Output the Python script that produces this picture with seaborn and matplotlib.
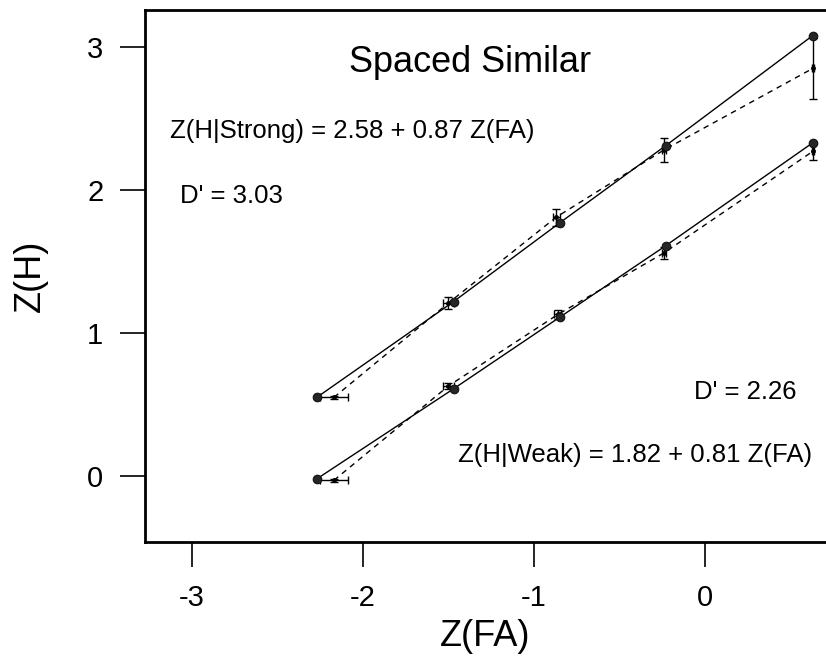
import numpy as np
import pandas as pd
import matplotlib
matplotlib.use("Agg")
import matplotlib.pyplot as plt
import seaborn as sns

# ---- data ----
fa_model = [-2.27, -1.47, -0.85, -0.23, 0.63]
strong_model = [0.55, 1.22, 1.77, 2.31, 3.08]
weak_model = [-0.02, 0.61, 1.11, 1.61, 2.33]

strong_obs_x = [-2.17, -1.50, -0.87, -0.24, 0.63]
strong_obs_y = [0.55, 1.21, 1.81, 2.28, 2.85]
strong_obs_xerr = [0.08, 0.03, 0.02, 0.01, 0.005]
strong_obs_yerr = [0.01, 0.045, 0.06, 0.085, 0.21]

weak_obs_x = [-2.17, -1.50, -0.86, -0.24, 0.63]
weak_obs_y = [-0.03, 0.63, 1.13, 1.56, 2.27]
weak_obs_xerr = [0.08, 0.03, 0.02, 0.01, 0.005]
weak_obs_yerr = [0.01, 0.02, 0.03, 0.045, 0.06]

x_ticks = [-3, -2, -1, 0]
y_ticks = [0, 1, 2, 3]

title_text = "Spaced Similar"
strong_eq = "Z(H|Strong) = 2.58 + 0.87 Z(FA)"
weak_eq = "Z(H|Weak) = 1.82 + 0.81 Z(FA)"
strong_d = "D' = 3.03"
weak_d = "D' = 2.26"

sns.set_theme(style="white")
plt.rcParams['font.family'] = ['Liberation Sans', 'DejaVu Sans']

fig = plt.figure(figsize=(8.26, 6.56), dpi=100)
ax = fig.add_axes([145/826, 1-542/656, 1-145/826, (542-10)/656])

model_df = pd.DataFrame({
    "fa": fa_model * 2,
    "zh": strong_model + weak_model,
    "cond": ["Strong"] * 5 + ["Weak"] * 5,
})
obs_df = pd.DataFrame({
    "fa": strong_obs_x + weak_obs_x,
    "zh": strong_obs_y + weak_obs_y,
    "cond": ["Strong"] * 5 + ["Weak"] * 5,
})

# model (solid) lines with filled markers
sns.lineplot(data=model_df, x="fa", y="zh", units="cond", estimator=None,
             sort=False, color="black", lw=1.0, ax=ax, legend=False)
sns.scatterplot(data=model_df, x="fa", y="zh", color="#262626", s=38,
                edgecolor="#111111", linewidth=0.8, ax=ax, legend=False, zorder=5)

# observed (dashed) lines with error bars
sns.lineplot(data=obs_df, x="fa", y="zh", units="cond", estimator=None,
             sort=False, color="black", lw=1.0, ax=ax, legend=False,
             linestyle=(0, (4, 3.5)))
for xs, ys, xe, ye in [(strong_obs_x, strong_obs_y, strong_obs_xerr, strong_obs_yerr),
                       (weak_obs_x, weak_obs_y, weak_obs_xerr, weak_obs_yerr)]:
    ax.errorbar(xs, ys, xerr=xe, yerr=ye, fmt='o', ms=2.5, color="black",
                ecolor="black", elinewidth=1.0, capsize=3, capthick=1.0, zorder=4)

ax.set_xlim(-3.275, 0.708)
ax.set_ylim(-0.4615, 3.259)
ax.set_xticks(x_ticks)
ax.set_yticks(y_ticks)
ax.set_xticklabels([str(v) for v in x_ticks])
ax.set_yticklabels([str(v) for v in y_ticks])
ax.tick_params(axis='both', direction='out', length=18, width=1.2, color='black',
               labelsize=21, labelcolor='black', bottom=True, left=True)
ax.tick_params(axis='x', pad=12)
ax.tick_params(axis='y', pad=12)
for s in ['left', 'bottom', 'top']:
    ax.spines[s].set_visible(True)
    ax.spines[s].set_color('black')
    ax.spines[s].set_linewidth(2.0)
ax.spines['right'].set_visible(False)

ax.set_xlabel("Z(FA)", fontsize=26, color='black', labelpad=5)
ax.set_ylabel("Z(H)", fontsize=26, color='black', labelpad=28)

ax.text(-1.374, 2.895, title_text, fontsize=26, ha='center', va='center', color='black')
ax.text(-3.129, 2.413, strong_eq, fontsize=18.5, ha='left', va='center', color='black')
ax.text(-3.07, 1.958, strong_d, fontsize=18.5, ha='left', va='center', color='black')
ax.text(-0.064, 0.587, weak_d, fontsize=18.5, ha='left', va='center', color='black')
ax.text(-1.444, 0.147, weak_eq, fontsize=18.5, ha='left', va='center', color='black')

fig.savefig("out.png", dpi=100)
